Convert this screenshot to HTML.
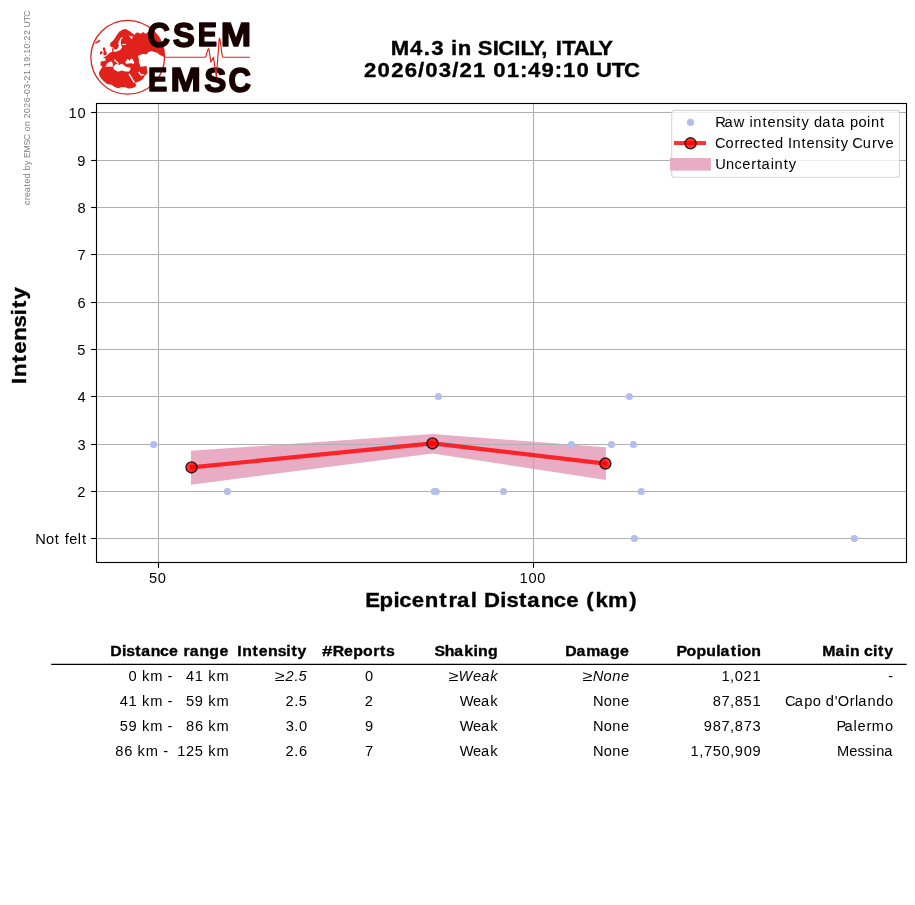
<!DOCTYPE html>
<html><head><meta charset="utf-8"><title>M4.3 in SICILY, ITALY</title>
<style>html,body{margin:0;padding:0;background:#fff;width:915px;height:905px;overflow:hidden}svg{display:block;will-change:transform}text{font-family:"Liberation Sans",sans-serif;white-space:pre}</style>
</head><body>
<svg width="915" height="905" viewBox="0 0 915 905">
<rect width="915" height="905" fill="#fff"/>
<g transform="translate(30.4,204.9) rotate(-90)">
<text x="-0.01 4.99 7.96 12.75 18.45 21.46 26.60" y="0.00" font-size="8.79" fill="#808080">created</text>
<text x="34.64 39.95" y="0.00" font-size="8.79" fill="#808080">by</text>
<text x="46.93 52.46 59.47 64.69" y="0.00" font-size="8.79" fill="#808080">EMSC</text>
<text x="73.58 78.79" y="0.00" font-size="8.79" fill="#808080">on</text>
<text x="86.60 92.01 97.20 102.61 107.75 110.92 116.24 121.36 124.42 129.79" y="0.00" font-size="8.79" fill="#808080">2026-03-21</text>
<text x="137.74 143.06 148.37 151.15 156.50 161.78 164.50 169.80" y="0.00" font-size="8.79" fill="#808080">19:10:22</text>
<text x="177.53 183.62 188.05" y="0.00" font-size="8.79" fill="#808080">UTC</text>
</g>
<text transform="translate(0,54.90) scale(1.08,1)" x="361.78 379.74 392.39 399.23" y="0" font-size="20.51" font-weight="bold" stroke="#000" stroke-width="0.34">M4.3</text>
<text transform="translate(0,54.90) scale(1.08,1)" x="417.69 423.77" y="0" font-size="20.51" font-weight="bold" stroke="#000" stroke-width="0.34">in</text>
<text transform="translate(0,54.90) scale(1.08,1)" x="442.44 456.17 461.30 476.08 481.96 490.62 501.13" y="0" font-size="20.51" font-weight="bold" stroke="#000" stroke-width="0.34">SICILY,</text>
<text transform="translate(0,54.90) scale(1.08,1)" x="514.61 520.68 531.27 545.31 553.96" y="0" font-size="20.51" font-weight="bold" stroke="#000" stroke-width="0.34">ITALY</text>
<text transform="translate(0,77.00) scale(1.08,1)" x="337.10 349.66 362.16 374.77 387.11 393.82 406.35 418.74 425.42 438.00" y="0" font-size="20.51" font-weight="bold" stroke="#000" stroke-width="0.34">2026/03/21</text>
<text transform="translate(0,77.00) scale(1.08,1)" x="456.77 469.32 481.44 488.90 501.45 513.69 521.30 533.81" y="0" font-size="20.51" font-weight="bold" stroke="#000" stroke-width="0.34">01:49:10</text>
<text transform="translate(0,77.00) scale(1.08,1)" x="551.94 566.51 577.86" y="0" font-size="20.51" font-weight="bold" stroke="#000" stroke-width="0.34">UTC</text>
<polygon points="191.0,450.8 432.5,433.9 605.9,447.3 605.9,480.1 432.5,453.4 191.0,484.7" fill="#e9acc5"/>
<g stroke="#b0b0b0" stroke-width="1.11" fill="none">
<line x1="96.5" y1="112.5" x2="906.5" y2="112.5"/>
<line x1="96.5" y1="160.5" x2="906.5" y2="160.5"/>
<line x1="96.5" y1="207.5" x2="906.5" y2="207.5"/>
<line x1="96.5" y1="254.5" x2="906.5" y2="254.5"/>
<line x1="96.5" y1="302.5" x2="906.5" y2="302.5"/>
<line x1="96.5" y1="349.5" x2="906.5" y2="349.5"/>
<line x1="96.5" y1="396.5" x2="906.5" y2="396.5"/>
<line x1="96.5" y1="444.5" x2="906.5" y2="444.5"/>
<line x1="96.5" y1="491.5" x2="906.5" y2="491.5"/>
<line x1="96.5" y1="538.5" x2="906.5" y2="538.5"/>
<line x1="158.5" y1="103.5" x2="158.5" y2="562.5"/>
<line x1="533.5" y1="103.5" x2="533.5" y2="562.5"/>
</g>
<g fill="#b1bfea">
<circle cx="153.6" cy="444.5" r="3.58"/>
<circle cx="227.4" cy="491.5" r="3.58"/>
<circle cx="389.5" cy="444.5" r="3.58"/>
<circle cx="427.0" cy="444.5" r="3.58"/>
<circle cx="441.0" cy="444.5" r="3.58"/>
<circle cx="451.6" cy="444.5" r="3.58"/>
<circle cx="438.4" cy="396.5" r="3.58"/>
<circle cx="434.2" cy="491.5" r="3.58"/>
<circle cx="436.2" cy="491.5" r="3.58"/>
<circle cx="503.5" cy="491.5" r="3.58"/>
<circle cx="571.5" cy="444.5" r="3.58"/>
<circle cx="611.5" cy="444.5" r="3.58"/>
<circle cx="633.4" cy="444.5" r="3.58"/>
<circle cx="629.4" cy="396.5" r="3.58"/>
<circle cx="641.3" cy="491.5" r="3.58"/>
<circle cx="634.4" cy="538.5" r="3.58"/>
<circle cx="854.4" cy="538.5" r="3.58"/>
</g>
<polyline points="191.5,467.4 432.5,443.4 605.4,463.6" fill="none" stroke="#ff0000" stroke-opacity="0.8" stroke-width="4.17" stroke-linejoin="round" stroke-linecap="square"/>
<circle cx="191.5" cy="467.4" r="5.56" fill="#ff0000" fill-opacity="0.8" stroke="#000" stroke-opacity="0.8" stroke-width="1.39"/>
<circle cx="432.5" cy="443.4" r="5.56" fill="#ff0000" fill-opacity="0.8" stroke="#000" stroke-opacity="0.8" stroke-width="1.39"/>
<circle cx="605.4" cy="463.6" r="5.56" fill="#ff0000" fill-opacity="0.8" stroke="#000" stroke-opacity="0.8" stroke-width="1.39"/>
<rect x="96.5" y="103.5" width="810.0" height="459.0" fill="none" stroke="#000" stroke-width="1.11"/>
<g stroke="#000" stroke-width="1.11">
<line x1="91.14" y1="112.5" x2="96.5" y2="112.5"/>
<line x1="91.14" y1="160.5" x2="96.5" y2="160.5"/>
<line x1="91.14" y1="207.5" x2="96.5" y2="207.5"/>
<line x1="91.14" y1="254.5" x2="96.5" y2="254.5"/>
<line x1="91.14" y1="302.5" x2="96.5" y2="302.5"/>
<line x1="91.14" y1="349.5" x2="96.5" y2="349.5"/>
<line x1="91.14" y1="396.5" x2="96.5" y2="396.5"/>
<line x1="91.14" y1="444.5" x2="96.5" y2="444.5"/>
<line x1="91.14" y1="491.5" x2="96.5" y2="491.5"/>
<line x1="91.14" y1="538.5" x2="96.5" y2="538.5"/>
<line x1="158.5" y1="562.5" x2="158.5" y2="567.86"/>
<line x1="533.5" y1="562.5" x2="533.5" y2="567.86"/>
</g>
<text x="68.49 77.40" y="117.50" font-size="14.65">10</text>
<text x="77.36" y="165.50" font-size="14.65">9</text>
<text x="77.40" y="212.50" font-size="14.65">8</text>
<text x="77.38" y="259.50" font-size="14.65">7</text>
<text x="77.40" y="307.50" font-size="14.65">6</text>
<text x="77.35" y="354.50" font-size="14.65">5</text>
<text x="77.40" y="401.50" font-size="14.65">4</text>
<text x="77.42" y="449.50" font-size="14.65">3</text>
<text x="77.22" y="496.50" font-size="14.65">2</text>
<text x="35.21 45.88 54.85" y="543.50" font-size="14.65">Not</text>
<text x="64.65 69.18 77.80 82.00" y="543.50" font-size="14.65">felt</text>
<text x="148.95 157.84" y="583.30" font-size="14.65">50</text>
<text x="519.51 528.42 537.26" y="583.30" font-size="14.65">100</text>
<text transform="translate(0,606.70) scale(1.08,1)" x="338.10 351.49 364.34 369.59 381.24 393.31 406.77 415.23 423.14 435.85" y="0" font-size="20.51" font-weight="bold" stroke="#000" stroke-width="0.34">Epicentral</text>
<text transform="translate(0,606.70) scale(1.08,1)" x="448.21 463.24 468.91 480.68 488.17 500.79 512.77 524.42" y="0" font-size="20.51" font-weight="bold" stroke="#000" stroke-width="0.34">Distance</text>
<text transform="translate(0,606.70) scale(1.08,1)" x="542.85 551.31 563.06 582.71" y="0" font-size="20.51" font-weight="bold" stroke="#000" stroke-width="0.34">(km)</text>
<g transform="translate(25.8,335.7) rotate(-90)">
<text transform="translate(0,0.00) scale(1.08,1)" x="-44.70 -38.34 -24.87 -16.77 -4.70 7.71 18.92 25.65 33.54" y="0" font-size="20.51" font-weight="bold" stroke="#000" stroke-width="0.34">Intensity</text>
</g>
<rect x="671.7" y="110.4" width="227.80" height="66.80" rx="2.8" ry="2.8" fill="#fff" fill-opacity="0.8" stroke="#ccc" stroke-opacity="0.8" stroke-width="1.11"/>
<circle cx="690.5" cy="122.4" r="3.58" fill="#b1bfea"/>
<line x1="676.0" y1="143.0" x2="703.9" y2="143.0" stroke="#ff0000" stroke-opacity="0.8" stroke-width="4.17" stroke-linecap="square"/>
<circle cx="690.5" cy="143.3" r="5.56" fill="#ff0000" fill-opacity="0.8" stroke="#000" stroke-opacity="0.8" stroke-width="1.39"/>
<rect x="669.9" y="158.0" width="41.0" height="12.6" fill="#fff"/>
<rect x="669.9" y="158.0" width="41.0" height="12.6" fill="#e9acc5"/>
<text x="715.25 724.50 733.74" y="127.30" font-size="14.65">Raw</text>
<text x="749.44 753.35 762.44 767.46 776.14 784.64 792.13 796.33 801.57" y="127.30" font-size="14.65">intensity</text>
<text x="814.01 822.23 831.74 836.19" y="127.30" font-size="14.65">data</text>
<text x="849.88 858.45 867.08 870.99 880.08" y="127.30" font-size="14.65">point</text>
<text x="714.98 725.38 734.38 739.84 744.79 753.10 761.40 766.42 774.99" y="147.90" font-size="14.65">Corrected</text>
<text x="787.98 792.42 801.52 806.54 815.22 823.71 831.21 835.41 840.64" y="147.90" font-size="14.65">Intensity</text>
<text x="852.31 862.83 872.02 877.49 885.49" y="147.90" font-size="14.65">Curve</text>
<text x="715.29 726.02 734.46 742.33 751.33 757.01 761.46 770.63 774.53 783.63 788.87" y="169.00" font-size="14.65">Uncertainty</text>
<line x1="51.2" y1="664.4" x2="906.7" y2="664.4" stroke="#000" stroke-width="1.39"/>
<text transform="translate(0,655.90) scale(1.08,1)" x="102.14 112.87 116.93 125.33 130.68 139.70 148.25 156.58" y="0" font-size="14.65" font-weight="bold" stroke="#000" stroke-width="0.34">Distance</text>
<text transform="translate(0,655.90) scale(1.08,1)" x="170.03 175.68 184.70 193.81 203.16" y="0" font-size="14.65" font-weight="bold" stroke="#000" stroke-width="0.34">range</text>
<text transform="translate(0,655.90) scale(1.08,1)" x="219.68 224.23 233.84 239.63 248.25 257.12 265.13 269.93 275.57" y="0" font-size="14.65" font-weight="bold" stroke="#000" stroke-width="0.34">Intensity</text>
<text transform="translate(322.03,655.90) scale(1.273,1)" font-size="14.65" font-weight="bold" stroke="#000" stroke-width="0.34">#</text>
<text transform="translate(0,655.90) scale(1.08,1)" x="308.16 318.49 327.20 336.15 345.51 351.95 357.35" y="0" font-size="14.65" font-weight="bold" stroke="#000" stroke-width="0.34">Reports</text>
<text transform="translate(0,655.90) scale(1.08,1)" x="402.32 411.85 420.70 429.95 438.33 442.68 451.79" y="0" font-size="14.65" font-weight="bold" stroke="#000" stroke-width="0.34">Shaking</text>
<text transform="translate(0,655.90) scale(1.08,1)" x="523.45 533.78 542.86 555.85 564.82 574.18" y="0" font-size="14.65" font-weight="bold" stroke="#000" stroke-width="0.34">Damage</text>
<text transform="translate(0,655.90) scale(1.08,1)" x="626.29 635.74 644.83 653.94 663.17 667.18 676.65 682.41 686.58 695.59" y="0" font-size="14.65" font-weight="bold" stroke="#000" stroke-width="0.34">Population</text>
<text transform="translate(0,655.90) scale(1.08,1)" x="761.25 773.53 782.61 786.95" y="0" font-size="14.65" font-weight="bold" stroke="#000" stroke-width="0.34">Main</text>
<text transform="translate(0,655.90) scale(1.08,1)" x="799.99 808.27 813.08 818.72" y="0" font-size="14.65" font-weight="bold" stroke="#000" stroke-width="0.34">city</text>
<text x="128.58" y="680.90" font-size="14.65">0</text>
<text x="141.96 150.24" y="680.90" font-size="14.65">km</text>
<text x="167.55" y="680.90" font-size="14.65">-</text>
<text x="186.08 194.84" y="680.90" font-size="14.65">41</text>
<text x="208.29 216.57" y="680.90" font-size="14.65">km</text>
<text x="285.40 294.41 298.48" y="680.90" font-size="14.65" font-style="italic">2.5</text>
<text transform="translate(274.58,680.90) scale(1.221,1)" font-size="14.65">≥</text>
<text x="365.02" y="680.90" font-size="14.65">0</text>
<text x="458.60 472.93 481.34 490.16" y="680.90" font-size="14.65" font-style="italic">Weak</text>
<text transform="translate(448.23,680.90) scale(1.221,1)" font-size="14.65">≥</text>
<text x="592.74 603.62 612.26 620.99" y="680.90" font-size="14.65" font-style="italic">None</text>
<text transform="translate(582.33,680.90) scale(1.221,1)" font-size="14.65">≥</text>
<text x="721.50 730.11 734.83 743.48 752.43" y="680.90" font-size="14.65">1,021</text>
<text x="888.25" y="680.90" font-size="14.65">-</text>
<text x="119.75 128.51" y="705.90" font-size="14.65">41</text>
<text x="141.96 150.24" y="705.90" font-size="14.65">km</text>
<text x="167.55" y="705.90" font-size="14.65">-</text>
<text x="186.03 194.87" y="705.90" font-size="14.65">59</text>
<text x="208.29 216.57" y="705.90" font-size="14.65">km</text>
<text x="285.47 294.31 298.85" y="705.90" font-size="14.65">2.5</text>
<text x="364.84" y="705.90" font-size="14.65">2</text>
<text x="459.73 472.93 480.90 490.22" y="705.90" font-size="14.65">Weak</text>
<text x="592.97 603.63 612.31 620.98" y="705.90" font-size="14.65">None</text>
<text x="712.74 721.55 730.11 734.83 743.61 752.43" y="705.90" font-size="14.65">87,851</text>
<text x="784.98 794.85 804.13 812.70" y="705.90" font-size="14.65">Capo</text>
<text x="825.69 834.76 837.84 849.68 855.02 858.23 867.44 876.14 884.88" y="705.90" font-size="14.65">d'Orlando</text>
<text x="119.69 128.54" y="730.90" font-size="14.65">59</text>
<text x="141.96 150.24" y="730.90" font-size="14.65">km</text>
<text x="167.55" y="730.90" font-size="14.65">-</text>
<text x="186.08 194.92" y="730.90" font-size="14.65">86</text>
<text x="208.29 216.57" y="730.90" font-size="14.65">km</text>
<text x="285.67 294.31 298.90" y="730.90" font-size="14.65">3.0</text>
<text x="364.98" y="730.90" font-size="14.65">9</text>
<text x="459.73 472.93 480.90 490.22" y="730.90" font-size="14.65">Weak</text>
<text x="592.97 603.63 612.31 620.98" y="730.90" font-size="14.65">None</text>
<text x="703.86 712.74 721.55 730.11 734.83 743.64 752.52" y="730.90" font-size="14.65">987,873</text>
<text x="836.57 844.45 853.60 857.39 866.39 871.87 884.88" y="730.90" font-size="14.65">Palermo</text>
<text x="115.33 124.16" y="755.90" font-size="14.65">86</text>
<text x="137.54 145.82" y="755.90" font-size="14.65">km</text>
<text x="163.13" y="755.90" font-size="14.65">-</text>
<text x="177.17 185.90 194.86" y="755.90" font-size="14.65">125</text>
<text x="208.29 216.57" y="755.90" font-size="14.65">km</text>
<text x="285.47 294.31 298.90" y="755.90" font-size="14.65">2.6</text>
<text x="364.99" y="755.90" font-size="14.65">7</text>
<text x="459.73 472.93 480.90 490.22" y="755.90" font-size="14.65">Weak</text>
<text x="592.97 603.63 612.31 620.98" y="755.90" font-size="14.65">None</text>
<text x="690.58 699.18 703.88 712.69 721.58 730.11 734.79 743.67 752.46" y="755.90" font-size="14.65">1,750,909</text>
<text x="836.92 849.24 857.61 864.84 872.34 876.24 884.35" y="755.90" font-size="14.65">Messina</text>
<circle cx="127.7" cy="57.3" r="36.85" fill="none" stroke="#e1221c" stroke-width="1.3"/>
<polygon fill="#e1221c" points="102.9,57.3 105.5,56.5 107.7,54.7 109.9,52.5 112.5,51.9 116.9,51.6 120.4,49.7 122.1,47.3 121.2,45.5 120.8,42.5 121.2,39.4 123.2,36.8 120.8,38.1 118.8,41.2 118.2,43.4 118.8,45.5 118.2,47.7 116.4,49.5 114.2,49.5 113.4,47.7 111.6,46.9 110.1,46 110.3,42.9 113.4,40.3 115.5,37.2 117.7,33.7 119.5,31.6 123,29.4 125.2,28.9 127.3,29.8 130,31.6 133,33.7 135,35.1 135.4,33.3 138,32.2 138.9,33.3 141.1,33.5 143.3,32 145.5,33.7 147.2,32.4 150,31 154.2,31.6 158.6,37.2 161.2,41.6 163.6,47.7 164.5,53 164.7,57.3 163,56.5 159.5,54.7 157.7,53 154.2,52.1 151.6,51 147.7,52.5 147.2,54.3 142.4,53.9 138.9,55.2 138.1,56.4 139,59.4 138.8,62 139.9,65.1 140.3,66.8 143.4,66.4 145.5,65.9 146.9,66.8 146.9,69.4 147.5,72.5 146.4,74.2 144.7,75.5 144.2,76.9 142.5,79.5 139.4,81.2 135.1,83 136.4,85.6 134.6,87.3 131.6,88.2 128.2,88.4 125.6,87.3 121.2,87.3 118.2,88.2 115.1,87.3 111.6,84.7 107.2,83.9 103.7,81.2 101.1,78.6 99.4,75.5 98.9,72.5 101.6,68.1 102.6,66.8 100.5,65.5 100.7,61.6 105.5,60.7 105.5,58.5 103.3,57.6"/>
<polygon fill="#e1221c" points="112,48.3 113.3,48.3 113.6,52 112.2,52"/>
<polygon fill="#e1221c" points="102.7,48.2 103.7,47.2 105.1,47.7 105.5,50.4 106.8,53 106.6,54.7 103.7,55.6 103.3,53.4 103.7,51.2 102.9,49.5"/>
<polygon fill="#e1221c" points="100.2,51.7 102,50.8 102.7,53 100.7,54.7 99.8,53.9"/>
<path d="M95.9,42.9 L99.4,40.7" stroke="#e1221c" stroke-width="1.7" stroke-linecap="round" fill="none"/>
<polygon fill="#fff" fill-opacity="0.75" points="128.7,35.3 133.5,36.8 131.3,39.4"/>
<path d="M122.1,44.7 L126,44.2" stroke="#fff" stroke-width="1.0" fill="none"/>
<polygon fill="#fff" fill-opacity="0.9" points="104.2,66.4 106.1,65.9 106.8,63.7 108.6,62.2 111.2,61.3 112.5,62.4 112.9,65.1 113.4,66.8 108.1,66.8"/>
<polygon fill="#fff" fill-opacity="1" points="113.4,67.2 114.7,65.1 116.9,63.7 119.5,65.1 121.2,63.7 123.4,64.4 125.2,66.4 128.2,67.2 130.6,67.7 130.4,69.6 129.1,71.6 125.6,71.5 121.2,70.4 119.5,71.3 117.7,71.7 115.5,70.3 113.8,69.4"/>
<path d="M114.2,59.6 L118.4,63.5" stroke="#fff" stroke-width="1.2" fill="none"/>
<polygon fill="#fff" points="125.2,62.7 126.5,60.2 127.8,58.9 129.5,60.7 131.3,58.5 132.6,58.9 133.5,61.1 134.3,62.4 133.9,63.7 130,63.3 126.5,63.7"/>
<path d="M129.0,73.8 L134.4,82.6" stroke="#fff" stroke-width="1.35" fill="none"/>
<path d="M138.6,72 L141.2,75.1 L143.8,74.7" stroke="#fff" stroke-width="1.2" fill="none" stroke-linejoin="round"/>
<text transform="translate(147.52,46.60) scale(0.3120,0.3559)" font-size="100.0" font-weight="bold" fill="#180000" stroke="#180000" stroke-width="4.49" stroke-linejoin="round">C</text>
<text transform="translate(172.79,46.60) scale(0.3322,0.3559)" font-size="100.0" font-weight="bold" fill="#180000" stroke="#180000" stroke-width="4.36" stroke-linejoin="round">S</text>
<text transform="translate(197.67,46.05) scale(0.2888,0.3401)" font-size="100.0" font-weight="bold" fill="#180000" stroke="#180000" stroke-width="4.77" stroke-linejoin="round">E</text>
<text transform="translate(220.76,46.05) scale(0.3647,0.3401)" font-size="100.0" font-weight="bold" fill="#180000" stroke="#180000" stroke-width="4.26" stroke-linejoin="round">M</text>
<text transform="translate(148.07,91.25) scale(0.2888,0.3401)" font-size="100.0" font-weight="bold" fill="#180000" stroke="#180000" stroke-width="4.77" stroke-linejoin="round">E</text>
<text transform="translate(170.51,91.25) scale(0.3647,0.3401)" font-size="100.0" font-weight="bold" fill="#180000" stroke="#180000" stroke-width="4.26" stroke-linejoin="round">M</text>
<text transform="translate(204.34,91.80) scale(0.3322,0.3559)" font-size="100.0" font-weight="bold" fill="#180000" stroke="#180000" stroke-width="4.36" stroke-linejoin="round">S</text>
<text transform="translate(228.42,91.80) scale(0.3120,0.3559)" font-size="100.0" font-weight="bold" fill="#180000" stroke="#180000" stroke-width="4.49" stroke-linejoin="round">C</text>
<path fill="none" stroke="#e1221c" stroke-width="1.15" stroke-linejoin="round" d="M164.9,57.2 L204.6,57.2 Q205.6,57.2 206.0,56 L207.9,49.6 Q208.5,47.4 209.0,49.6 L210.9,62.1 L213.5,57.3 L216.4,76.9 L219.1,40 Q219.6,36.3 220.1,40 L222.2,56 Q222.4,57.2 223.2,57.2 L249.9,57.2"/>
</svg></body></html>
